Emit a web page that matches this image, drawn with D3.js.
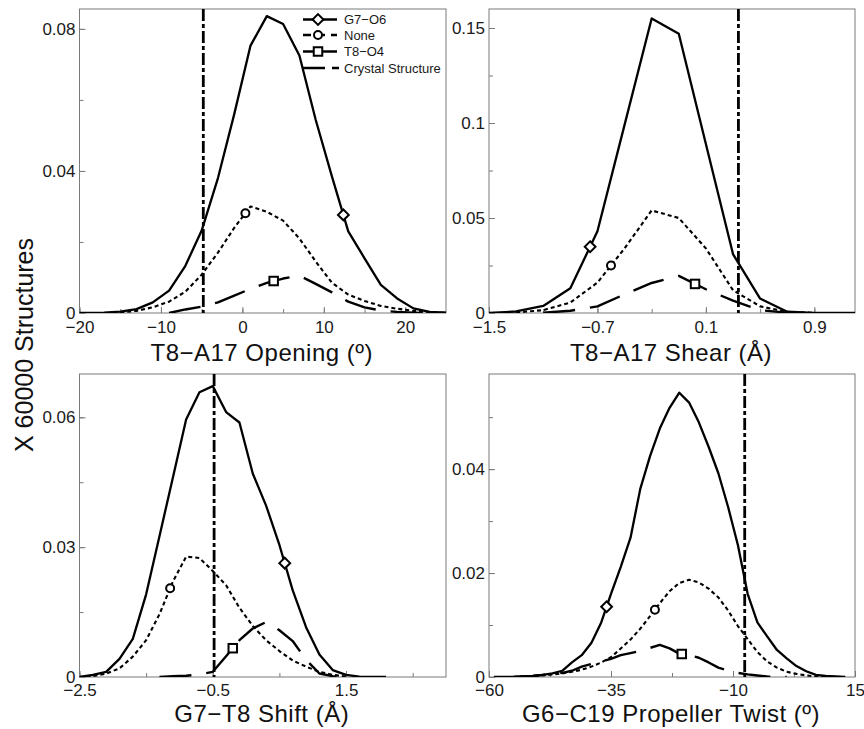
<!DOCTYPE html>
<html>
<head>
<meta charset="utf-8">
<script src="https://cdn.jsdelivr.net/npm/d3@7"></script>
<style>
  body { margin: 0; background: #fff; }
  svg { display: block; font-family: "Liberation Sans", Arial, Helvetica, sans-serif; }
</style>
</head>
<body>
<svg id="chart" width="864" height="729"></svg>
<script>
// ---------- T8-A17 Opening (º) ----------
const openingX     = [-21, -19, -17, -15, -13, -11, -9, -7, -5, -3, -1, 1, 3, 5, 7, 9, 11, 13, 15, 17, 19, 21, 23, 25];
const openingG7O6  = [0, 0, 0.0001, 0.0004, 0.0011, 0.0030, 0.0063, 0.0133, 0.0232, 0.0380, 0.0560, 0.0753, 0.0836, 0.0814, 0.0725, 0.0544, 0.0384, 0.0230, 0.0154, 0.0079, 0.0041, 0.0013, 0.0003, 0.0001];
const openingNone  = [null, null, null, 0.0002, 0.0006, 0.0016, 0.0032, 0.0060, 0.0108, 0.0170, 0.0240, 0.0300, 0.0285, 0.0260, 0.0210, 0.0145, 0.0085, 0.0052, 0.0034, 0.0020, 0.0012, 0.0006, 0.0002, 0];
const openingT8O4  = [null, null, null, null, null, null, 0, 0.0010, 0.0018, 0.0030, 0.0049, 0.0068, 0.0085, 0.0097, 0.0105, 0.0082, 0.0058, 0.0032, 0.0016, 0.0007, 0.0003, 0.0001, 0, 0];
const openingCrystal = -4.8;
const openingMarkerX = [12.4, 0.37, 3.84];          // G7-O6, None, T8-O4 symbol positions
const openingXDomain = [-20, 25];
const openingYDomain = [0, 0.0856];
const openingXTicks  = [-20, -15, -10, -5, 0, 5, 10, 15, 20];
const openingXLabelValues = [-20, -10, 0, 10, 20];
const openingXLabels = ["\u221220", "\u221210", "0", "10", "20"];
const openingYTicks  = [0, 0.02, 0.04, 0.06, 0.08];
const openingYLabelValues = [0, 0.04, 0.08];
const openingYLabels = ["0", "0.04", "0.08"];
const openingTitle   = "T8\u2212A17 Opening (\u00ba)";

// ---------- T8-A17 Shear (Å) ----------
const shearX     = [-1.5, -1.3, -1.1, -0.9, -0.7, -0.5, -0.3, -0.1, 0.1, 0.3, 0.5, 0.7, 0.9, 1.1, 1.3];
const shearG7O6  = [0, 0.0008, 0.0037, 0.0130, 0.0430, 0.0990, 0.1550, 0.1470, 0.0890, 0.0310, 0.0076, 0.0007, 0.0001, 0, 0];
const shearNone  = [null, 0.0003, 0.0015, 0.0055, 0.0160, 0.0340, 0.0540, 0.0500, 0.0340, 0.0120, 0.0035, 0.0006, 0.0001, null, null];
const shearT8O4  = [null, null, 0.0001, 0.0012, 0.0035, 0.0098, 0.0158, 0.0195, 0.0125, 0.0065, 0.0015, 0.0002, null, null, null];
const shearCrystal = 0.34;
const shearMarkerX = [-0.754, -0.6, 0.02];
const shearXDomain = [-1.5, 1.2];
const shearYDomain = [0, 0.16];
const shearXTicks  = [-1.5, -1.1, -0.7, -0.3, 0.1, 0.5, 0.9];
const shearXLabelValues = [-1.5, -0.7, 0.1, 0.9];
const shearXLabels = ["\u22121.5", "\u22120.7", "0.1", "0.9"];
const shearYTicks  = [0, 0.025, 0.05, 0.075, 0.1, 0.125, 0.15];
const shearYLabelValues = [0, 0.05, 0.1, 0.15];
const shearYLabels = ["0", "0.05", "0.1", "0.15"];
const shearTitle   = "T8\u2212A17 Shear (\u00c5)";

// ---------- G7-T8 Shift (Å) ----------
const shiftX     = [-2.5, -2.3, -2.1, -1.9, -1.7, -1.5, -1.3, -1.1, -0.9, -0.7, -0.5, -0.3, -0.1, 0.1, 0.3, 0.5, 0.7, 0.9, 1.1, 1.3, 1.5, 1.7, 1.9, 2.1];
const shiftG7O6  = [0, 0.0005, 0.0012, 0.0042, 0.0088, 0.0191, 0.0325, 0.0460, 0.0595, 0.0658, 0.0672, 0.0612, 0.0588, 0.0470, 0.0396, 0.0305, 0.0200, 0.0115, 0.0052, 0.0016, 0.0005, 0.0001, 0, 0];
const shiftNone  = [0, 0.0002, 0.0008, 0.0020, 0.0047, 0.0085, 0.0145, 0.0220, 0.0278, 0.0275, 0.0245, 0.0212, 0.0160, 0.0118, 0.0085, 0.0060, 0.0038, 0.0024, 0.0012, 0.0005, 0.0001, null, null, null];
const shiftT8O4  = [null, null, null, null, null, null, 0, 0.0002, 0.0003, 0.0006, 0.0012, 0.0048, 0.0085, 0.0112, 0.0127, 0.0108, 0.0083, 0.0040, 0.0008, 0.0002, 0, null, null, null];
const shiftCrystal = -0.48;
const shiftMarkerX = [0.58, -1.14, -0.2];
const shiftXDomain = [-2.5, 3.0];
const shiftYDomain = [0, 0.07];
const shiftXTicks  = [-2.5, -1.5, -0.5, 0.5, 1.5, 2.5];
const shiftXLabelValues = [-2.5, -0.5, 1.5];
const shiftXLabels = ["\u22122.5", "\u22120.5", "1.5"];
const shiftYTicks  = [0, 0.015, 0.03, 0.045, 0.06];
const shiftYLabelValues = [0, 0.03, 0.06];
const shiftYLabels = ["0", "0.03", "0.06"];
const shiftTitle   = "G7\u2212T8 Shift (\u00c5)";

// ---------- G6-C19 Propeller Twist (º) ----------
const twistX     = [-59, -57, -55, -53, -51, -49, -47, -45, -43, -41, -39, -37, -35, -33, -31, -29, -27, -25, -23, -21, -19, -17, -15, -13, -11, -9, -7, -5, -3, -1, 1, 3, 5, 7, 9, 11, 13];
const twistG7O6  = [0, 0, 0, 0.0001, 0.0002, 0.0004, 0.0007, 0.0012, 0.0028, 0.0042, 0.0066, 0.0105, 0.0160, 0.0212, 0.0268, 0.0362, 0.0425, 0.0478, 0.0518, 0.0547, 0.0528, 0.0490, 0.0443, 0.0392, 0.0327, 0.0254, 0.0160, 0.0105, 0.0078, 0.0052, 0.0036, 0.0021, 0.0011, 0.0004, 0.0002, 0.0001, 0];
const twistNone  = [null, null, 0, 0.0001, 0.0002, 0.0003, 0.0005, 0.0007, 0.0010, 0.0014, 0.0020, 0.0028, 0.0038, 0.0055, 0.0072, 0.0093, 0.0117, 0.0142, 0.0165, 0.0181, 0.0187, 0.0182, 0.0170, 0.0153, 0.0128, 0.0098, 0.0073, 0.0048, 0.0030, 0.0018, 0.0010, 0.0006, 0.0003, 0.0001, 0, null, null];
const twistT8O4  = [null, null, 0, 0.0001, 0.0002, 0.0004, 0.0006, 0.0008, 0.0012, 0.0020, 0.0025, 0.0030, 0.0035, 0.0042, 0.0046, 0.0050, 0.0056, 0.0062, 0.0055, 0.0045, 0.0042, 0.0037, 0.0028, 0.0018, 0.0012, 0.0008, 0.0005, 0.0003, 0.0001, 0, 0, null, null, null, null, null, null];
const twistCrystal = -7.6;
const twistMarkerX = [-35.9, -26, -20.5];
const twistXDomain = [-60, 15];
const twistYDomain = [0, 0.0583];
const twistXTicks  = [-60, -47.5, -35, -22.5, -10, 2.5, 15];
const twistXLabelValues = [-60, -35, -10, 15];
const twistXLabels = ["\u221260", "\u221235", "\u221210", "15"];
const twistYTicks  = [0, 0.01, 0.02, 0.03, 0.04, 0.05];
const twistYLabelValues = [0, 0.02, 0.04];
const twistYLabels = ["0", "0.02", "0.04"];
const twistTitle   = "G6\u2212C19 Propeller Twist (\u00ba)";

// ---------- legend / shared text ----------
const seriesNames = ["G7\u2212O6", "None", "T8\u2212O4", "Crystal Structure"];
const yAxisTitle = "X 60000 Structures";

// ---------- drawing styles ----------
const seriesStyles = [
  { dash: null,    width: 2.3, marker: "diamond", legendDash: null },
  { dash: "4,3",   width: 2.1, marker: "circle",  legendDash: "8,6" },
  { dash: "32,15", width: 2.4, marker: "square",  legendDash: null }
];
const crystalStyle = { dash: "12,3,4,3", width: 2.8, legendDash: "22,7,7,40" };

// Panel frames in page pixels
const frames = [
  { left: 79.5, right: 446, top: 9,   bottom: 313 },
  { left: 489,  right: 855, top: 9,   bottom: 313 },
  { left: 79.5, right: 446, top: 374, bottom: 677 },
  { left: 489,  right: 855, top: 374, bottom: 677 }
];

const panels = [
  { x: openingX, series: [openingG7O6, openingNone, openingT8O4], crystal: openingCrystal, markerX: openingMarkerX,
    xDomain: openingXDomain, yDomain: openingYDomain, xTicks: openingXTicks, xLabelValues: openingXLabelValues, xLabels: openingXLabels,
    yTicks: openingYTicks, yLabelValues: openingYLabelValues, yLabels: openingYLabels, title: openingTitle },
  { x: shearX, series: [shearG7O6, shearNone, shearT8O4], crystal: shearCrystal, markerX: shearMarkerX,
    xDomain: shearXDomain, yDomain: shearYDomain, xTicks: shearXTicks, xLabelValues: shearXLabelValues, xLabels: shearXLabels,
    yTicks: shearYTicks, yLabelValues: shearYLabelValues, yLabels: shearYLabels, title: shearTitle },
  { x: shiftX, series: [shiftG7O6, shiftNone, shiftT8O4], crystal: shiftCrystal, markerX: shiftMarkerX,
    xDomain: shiftXDomain, yDomain: shiftYDomain, xTicks: shiftXTicks, xLabelValues: shiftXLabelValues, xLabels: shiftXLabels,
    yTicks: shiftYTicks, yLabelValues: shiftYLabelValues, yLabels: shiftYLabels, title: shiftTitle },
  { x: twistX, series: [twistG7O6, twistNone, twistT8O4], crystal: twistCrystal, markerX: twistMarkerX,
    xDomain: twistXDomain, yDomain: twistYDomain, xTicks: twistXTicks, xLabelValues: twistXLabelValues, xLabels: twistXLabels,
    yTicks: twistYTicks, yLabelValues: twistYLabelValues, yLabels: twistYLabels, title: twistTitle }
];

const svg = d3.select("#chart");
const frameColor = "#7a7a7a";
const textColor = "#1a1a1a";

// linear interpolation along a series so a symbol sits on its curve
function valueAt(xs, ys, v) {
  for (let i = 0; i < xs.length - 1; i++) {
    if (v >= xs[i] && v <= xs[i + 1] && ys[i] != null && ys[i + 1] != null) {
      const t = (v - xs[i]) / (xs[i + 1] - xs[i]);
      return ys[i] + t * (ys[i + 1] - ys[i]);
    }
  }
  return 0;
}

function drawMarker(g, type, cx, cy) {
  const common = sel => sel.attr("fill", "#fff").attr("stroke", "#000").attr("stroke-width", 2);
  if (type === "diamond") {
    const r = 5.4;
    common(g.append("path").attr("d", `M${cx},${cy - r}L${cx + r},${cy}L${cx},${cy + r}L${cx - r},${cy}Z`));
  } else if (type === "circle") {
    common(g.append("circle").attr("cx", cx).attr("cy", cy).attr("r", 4));
  } else {
    const s = 8.5;
    common(g.append("rect").attr("x", cx - s / 2).attr("y", cy - s / 2).attr("width", s).attr("height", s));
  }
}

panels.forEach((p, i) => {
  const f = frames[i];
  const x = d3.scaleLinear().domain(p.xDomain).range([f.left, f.right]);
  const y = d3.scaleLinear().domain(p.yDomain).range([f.bottom, f.top]);
  const g = svg.append("g");

  const clipId = "clip" + i;
  svg.append("defs").append("clipPath").attr("id", clipId)
    .append("rect").attr("x", f.left).attr("y", f.top)
    .attr("width", f.right - f.left).attr("height", f.bottom - f.top);

  // frame
  g.append("rect").attr("x", f.left).attr("y", f.top)
    .attr("width", f.right - f.left).attr("height", f.bottom - f.top)
    .attr("fill", "none").attr("stroke", frameColor).attr("stroke-width", 1);

  // x axis: short inward ticks everywhere, labels on the major ones
  const xMinor = g.append("g").attr("transform", `translate(0,${f.bottom})`)
    .call(d3.axisBottom(x).tickValues(p.xTicks).tickSizeInner(-4).tickSizeOuter(0).tickFormat(""));
  const xMajor = g.append("g").attr("transform", `translate(0,${f.bottom})`)
    .call(d3.axisBottom(x).tickValues(p.xLabelValues).tickSizeInner(-6).tickSizeOuter(0).tickPadding(i < 2 ? 8 : 7)
      .tickFormat((d, k) => p.xLabels[k]));
  const yMinor = g.append("g").attr("transform", `translate(${f.left},0)`)
    .call(d3.axisLeft(y).tickValues(p.yTicks).tickSizeInner(-4).tickSizeOuter(0).tickFormat(""));
  const yMajor = g.append("g").attr("transform", `translate(${f.left},0)`)
    .call(d3.axisLeft(y).tickValues(p.yLabelValues).tickSizeInner(-6).tickSizeOuter(0).tickPadding(4)
      .tickFormat((d, k) => p.yLabels[k]));
  [xMinor, xMajor, yMinor, yMajor].forEach(a => {
    a.select(".domain").remove();
    a.selectAll(".tick line").attr("stroke", frameColor);
    a.selectAll(".tick text").attr("fill", textColor).style("font-size", "17px")
      .style("font-family", "'Liberation Sans', Arial, sans-serif");
  });

  // x-axis title
  g.append("text")
    .attr("x", (f.left + f.right) / 2 - 1)
    .attr("y", f.bottom + (i < 2 ? 48 : 45))
    .attr("text-anchor", "middle")
    .attr("fill", "#111")
    .style("font-size", "24px")
    .style("letter-spacing", "0.5px")
    .text(p.title);

  const plot = g.append("g").attr("clip-path", `url(#${clipId})`);

  // distribution curves
  p.series.forEach((vals, k) => {
    const st = seriesStyles[k];
    const pts = p.x.map((xv, j) => [xv, vals[j]]);
    const line = d3.line().defined(d => d[1] != null).x(d => x(d[0])).y(d => y(d[1]));
    plot.append("path").attr("d", line(pts))
      .attr("fill", "none").attr("stroke", "#000")
      .attr("stroke-width", st.width)
      .attr("stroke-linejoin", "round")
      .attr("stroke-dasharray", st.dash);
  });

  // crystal structure reference value
  plot.append("line")
    .attr("x1", x(p.crystal)).attr("x2", x(p.crystal))
    .attr("y1", f.top).attr("y2", f.bottom)
    .attr("stroke", "#000").attr("stroke-width", crystalStyle.width)
    .attr("stroke-dasharray", crystalStyle.dash);

  // one symbol per curve
  p.series.forEach((vals, k) => {
    const mv = p.markerX[k];
    drawMarker(plot, seriesStyles[k].marker, x(mv), y(valueAt(p.x, vals, mv)));
  });
});

// legend inside the opening panel
const legend = svg.append("g");
const legendRows = [19.5, 35, 51.5, 68];
seriesNames.forEach((name, k) => {
  const ly = legendRows[k];
  const st = k < 3 ? seriesStyles[k] : crystalStyle;
  legend.append("line").attr("x1", 303).attr("x2", k === 3 ? 340 : 337).attr("y1", ly).attr("y2", ly)
    .attr("stroke", "#000").attr("stroke-width", k === 3 ? 2.4 : 2.3)
    .attr("stroke-dasharray", st.legendDash);
  if (k < 3) drawMarker(legend, seriesStyles[k].marker, 318, ly);
  legend.append("text").attr("x", 344).attr("y", ly).attr("dy", "0.36em")
    .attr("fill", textColor).style("font-size", "13px").text(name);
});

// shared y-axis title
svg.append("text")
  .attr("transform", "translate(33,345) rotate(-90)")
  .attr("text-anchor", "middle")
  .attr("fill", "#111")
  .style("font-size", "25px")
  .text(yAxisTitle);
</script>
</body>
</html>
